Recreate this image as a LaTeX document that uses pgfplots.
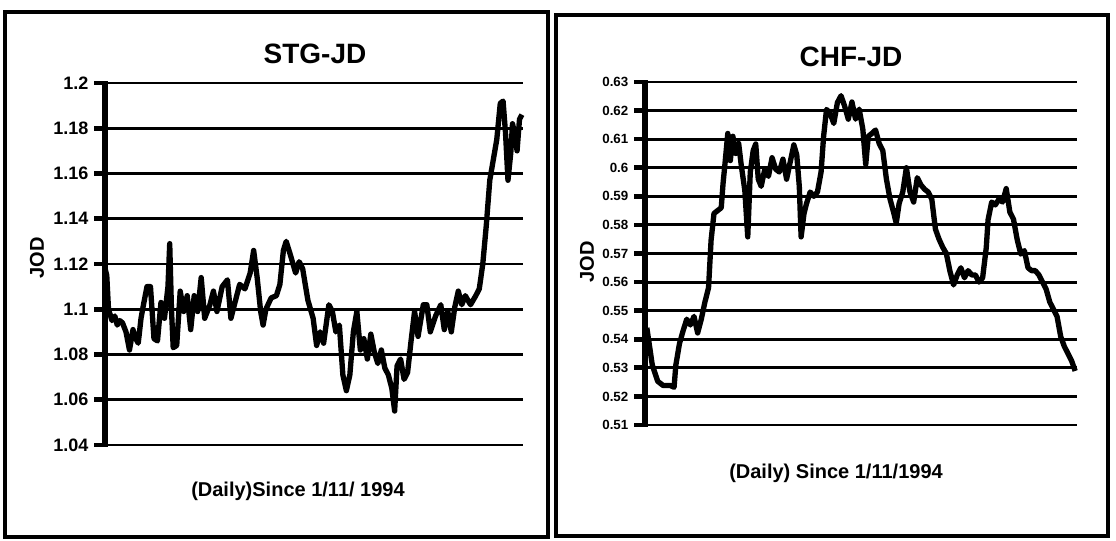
\documentclass[border=0pt]{standalone}
\usepackage{pgfplots}
\pgfplotsset{compat=1.18}
\usepackage{fontspec}
\setmainfont{Liberation Sans}

% STG-JD (x in arbitrary day index units)
\pgfplotstableread{
x y
300 1.118
305 1.115
310 1.100
320 1.095
328 1.097
335 1.093
342 1.095
350 1.094
360 1.090
370 1.082
380 1.091
388 1.087
395 1.085
403 1.096
410 1.102
420 1.110
430 1.110
440 1.087
450 1.086
460 1.103
470 1.096
480 1.110
485 1.129
490 1.100
495 1.083
505 1.084
515 1.108
525 1.099
535 1.106
545 1.091
555 1.106
565 1.099
575 1.114
585 1.096
600 1.102
610 1.108
620 1.099
635 1.110
650 1.113
660 1.096
670 1.102
685 1.111
700 1.109
715 1.116
725 1.126
735 1.114
745 1.099
752 1.093
760 1.100
775 1.105
790 1.106
800 1.111
810 1.126
818 1.130
830 1.124
845 1.116
855 1.121
865 1.118
880 1.104
895 1.096
905 1.084
915 1.090
925 1.085
940 1.102
950 1.099
960 1.090
970 1.093
980 1.071
990 1.064
1000 1.071
1010 1.090
1020 1.099
1030 1.082
1040 1.087
1050 1.078
1060 1.089
1070 1.081
1080 1.076
1090 1.082
1100 1.074
1110 1.071
1120 1.065
1128 1.055
1135 1.075
1145 1.078
1155 1.069
1165 1.072
1175 1.086
1185 1.099
1195 1.088
1210 1.102
1220 1.102
1230 1.090
1245 1.097
1260 1.102
1270 1.091
1280 1.099
1290 1.090
1300 1.101
1310 1.108
1320 1.102
1330 1.106
1345 1.102
1360 1.106
1370 1.109
1380 1.120
1390 1.137
1400 1.157
1410 1.166
1420 1.175
1430 1.191
1438 1.192
1445 1.178
1452 1.157
1460 1.169
1465 1.182
1472 1.177
1478 1.170
1485 1.184
1492 1.186
}\stg

% CHF-JD
\pgfplotstableread{
x y
275 0.5440
282 0.5380
290 0.5310
305 0.5253
320 0.5238
340 0.5238
350 0.5232
355 0.5310
365 0.5385
375 0.5430
385 0.5470
395 0.5450
405 0.5480
415 0.5422
425 0.5470
435 0.5530
445 0.5580
452 0.5746
460 0.5840
470 0.5850
480 0.5860
485 0.5945
490 0.6010
498 0.6120
505 0.6025
512 0.6110
520 0.6050
528 0.6085
535 0.6010
545 0.5920
553 0.5758
560 0.5985
568 0.6060
575 0.6083
582 0.5960
590 0.5935
600 0.5995
610 0.5970
620 0.6035
630 0.5995
640 0.5985
650 0.6030
660 0.5960
670 0.6020
680 0.6080
688 0.6045
695 0.5935
700 0.5758
708 0.5840
715 0.5875
725 0.5915
735 0.5900
745 0.5915
755 0.5985
762 0.6110
770 0.6204
780 0.6190
790 0.6155
800 0.6228
810 0.6252
820 0.6215
830 0.6170
840 0.6230
850 0.6170
860 0.6205
870 0.6135
878 0.6011
885 0.6110
895 0.6120
905 0.6132
915 0.6085
925 0.6060
935 0.5960
945 0.5890
955 0.5843
962 0.5806
970 0.5875
980 0.5915
990 0.6000
1000 0.5915
1010 0.5880
1020 0.5965
1030 0.5940
1040 0.5925
1050 0.5915
1060 0.5890
1070 0.5785
1080 0.5750
1090 0.5722
1100 0.5700
1110 0.5638
1120 0.5590
1130 0.5625
1140 0.5650
1150 0.5615
1160 0.5640
1170 0.5625
1180 0.5625
1190 0.5600
1200 0.5615
1210 0.5720
1215 0.5818
1225 0.5880
1235 0.5870
1245 0.5890
1255 0.5880
1265 0.5927
1275 0.5845
1285 0.5820
1295 0.5750
1305 0.5698
1315 0.5710
1325 0.5650
1335 0.5640
1345 0.5640
1355 0.5625
1365 0.5600
1375 0.5575
1385 0.5530
1395 0.5505
1405 0.5480
1415 0.5410
1425 0.5375
1435 0.5350
1445 0.5325
1455 0.5289
}\chf

\pgfplotsset{
  panel/.style={
    scale only axis,
    anchor=south west,
    axis x line=none,
    axis y line*=left,
    ymajorgrids,
    major grid style={line width=2.2pt, black},
    tick align=outside,
    major tick length=8pt,
    major tick style={line width=3.5pt, black},
    /pgf/number format/assume math mode=true,
    clip=false,
  },
}

\begin{document}
\begin{tikzpicture}[x=0.75pt,y=0.75pt]
\useasboundingbox (0,0) rectangle (1116,541);
\fill[white] (0,0) rectangle (1116,541);
% panel frames
\draw[line width=2.5pt] (5,4) rectangle (548,529);
\draw[line width=2.5pt] (556,5) rectangle (1108,526);

% left panel
\begin{axis}[panel,
  at={(78.75pt,72pt)}, width=313.5pt, height=271.5pt,
  xmin=300, xmax=1495, ymin=1.04, ymax=1.2,
  ytick={1.04,1.06,1.08,1.1,1.12,1.14,1.16,1.18,1.2},
  yticklabels={1.04,1.06,1.08,1.1,1.12,1.14,1.16,1.18,1.2},
  yticklabel style={font=\bfseries\fontsize{13.5}{13.5}\selectfont, xshift=-1pt},
]
\addplot[black, line width=4pt, line join=round] table {\stg};
\end{axis}
% thick y-axis spine
\fill[black] (102,94) rectangle (108,460);
\node[font=\bfseries\fontsize{21}{21}\selectfont] at (315,487) {STG-JD};
\node[font=\bfseries\fontsize{15}{15}\selectfont] at (298,50) {(Daily)Since 1/11/ 1994};
\node[font=\bfseries\fontsize{15}{15}\selectfont, rotate=90] at (37,283) {JOD};

% right panel
\begin{axis}[panel,
  at={(483.75pt,87pt)}, width=324pt, height=257.25pt,
  xmin=270, xmax=1460, ymin=0.51, ymax=0.63,
  ytick={0.51,0.52,0.53,0.54,0.55,0.56,0.57,0.58,0.59,0.6,0.61,0.62,0.63},
  yticklabels={0.51,0.52,0.53,0.54,0.55,0.56,0.57,0.58,0.59,0.6,0.61,0.62,0.63},
  yticklabel style={font=\bfseries\fontsize{10}{10}\selectfont, xshift=-1pt},
]
\addplot[black, line width=4pt, line join=round] table {\chf};
\end{axis}
% thick y-axis spine
\fill[black] (642,114) rectangle (648,461);
\node[font=\bfseries\fontsize{21}{21}\selectfont] at (851,484) {CHF-JD};
\node[font=\bfseries\fontsize{15}{15}\selectfont] at (836,68) {(Daily) Since 1/11/1994};
\node[font=\bfseries\fontsize{15}{15}\selectfont, rotate=90] at (587,279) {JOD};
\end{tikzpicture}
\end{document}
